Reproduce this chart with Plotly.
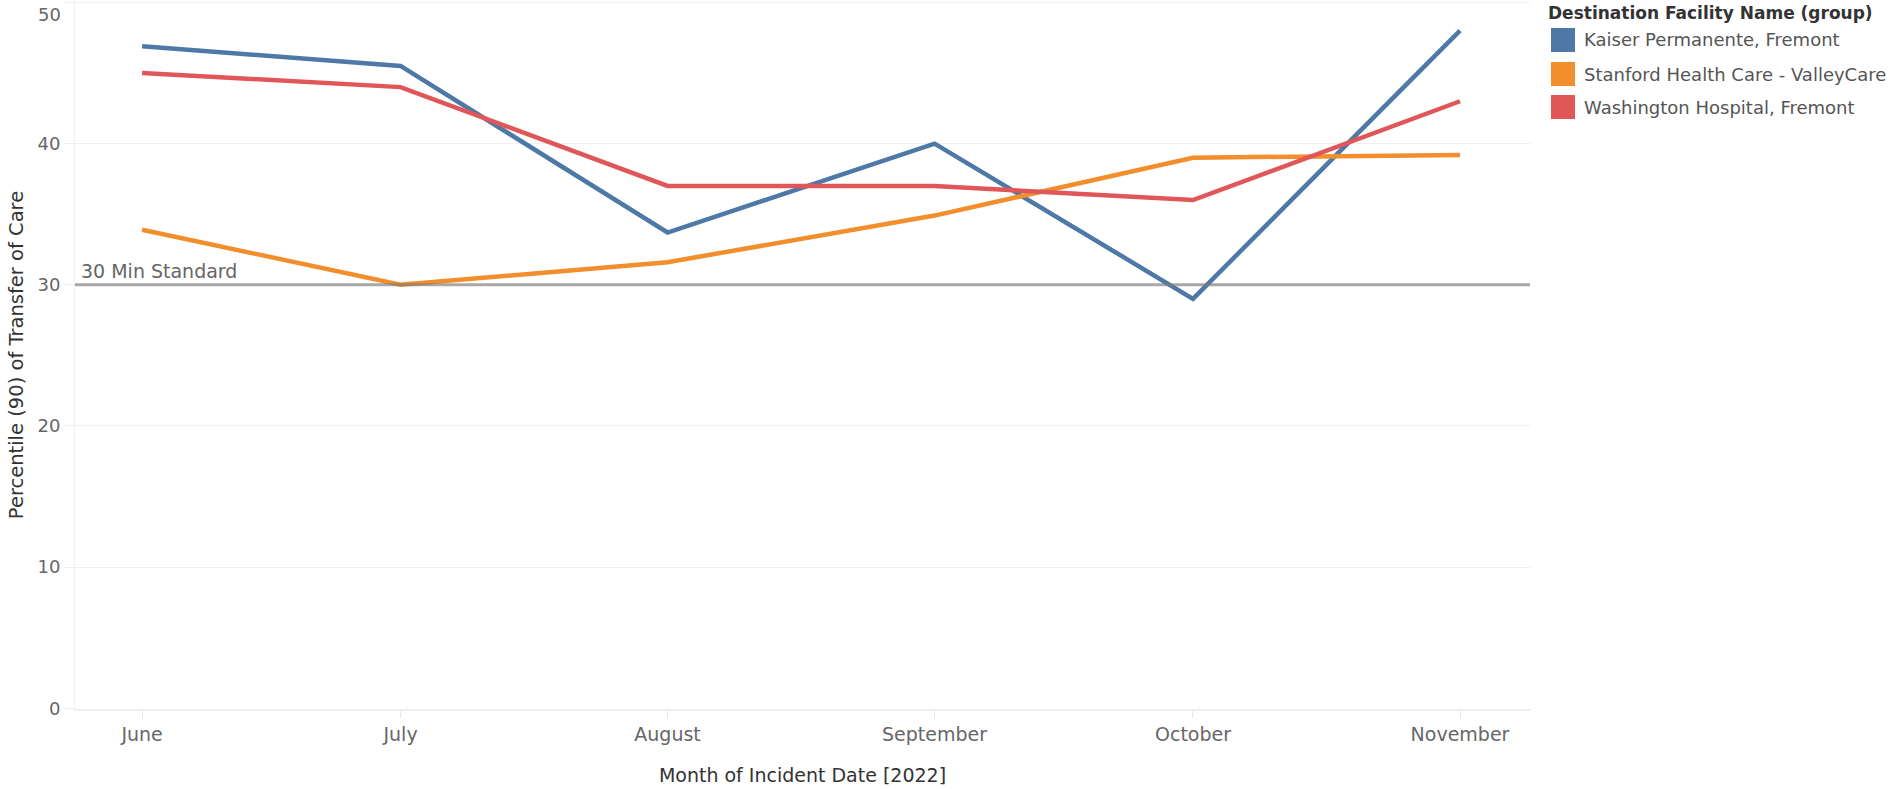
import plotly.graph_objects as go

# ---- data ----
months = ["June", "July", "August", "September", "October", "November"]
month_dates = ["2022-06-01", "2022-07-01", "2022-08-01", "2022-09-01", "2022-10-01", "2022-11-01"]
kaiser = [46.9, 45.5, 33.7, 40.0, 29.0, 48.0]
stanford = [33.9, 30.0, 31.6, 34.9, 39.0, 39.2]
washington = [45.0, 44.0, 37.0, 37.0, 36.0, 43.0]
series_names = ["Kaiser Permanente, Fremont", "Stanford Health Care - ValleyCare", "Washington Hospital, Fremont"]
series_values = [kaiser, stanford, washington]
colors = ["#4e79a7", "#f28e2b", "#e15759"]
standard_value = 30
standard_label = "30 Min Standard"
y_ticks = [0, 10, 20, 30, 40, 50]

FONT = "DejaVu Sans"
W, H = 1900, 789
L, R, T, B = 75, 1530, 1, 709  # plot area in pixels


def px_x(p):
    return (p - L) / (R - L)


def px_y(p):
    return (B - p) / (B - T)


fig = go.Figure()

for name, vals, col in zip(series_names, series_values, colors):
    fig.add_trace(go.Scatter(
        x=month_dates, y=vals, mode="lines", name=name,
        line=dict(color=col, width=4.5), showlegend=False,
        hovertemplate="%{y}<extra>" + name + "</extra>",
    ))

shapes = []
annotations = []

# reference line
shapes.append(dict(type="line", xref="paper", yref="y", x0=0, x1=1,
                   y0=standard_value, y1=standard_value,
                   line=dict(color="rgba(125,125,125,0.65)", width=3), layer="above"))
annotations.append(dict(xref="paper", yref="y", x=px_x(79), y=standard_value,
                        text=standard_label, showarrow=False, xanchor="left",
                        yanchor="bottom", yshift=1,
                        font=dict(family=FONT, size=19, color="#666666")))

# top tick label (Tableau draws it inside the chart area)
tick_text = [str(v) for v in y_ticks[:-1]] + [""]
annotations.append(dict(xref="paper", yref="y", x=0, y=y_ticks[-1], text=str(y_ticks[-1]),
                        showarrow=False, xanchor="right", yanchor="top", xshift=-12,
                        font=dict(family=FONT, size=18, color="#666666")))

# custom legend
annotations.append(dict(xref="paper", yref="paper", x=px_x(1546), y=px_y(13),
                        text="Destination Facility Name (group)", showarrow=False,
                        xanchor="left", yanchor="middle",
                        font=dict(family=FONT, size=17, color="#333333", weight="bold")))
row_y = [40, 74, 107]
for name, col, ry in zip(series_names, colors, row_y):
    shapes.append(dict(type="rect", xref="paper", yref="paper",
                       x0=px_x(1551), x1=px_x(1575), y0=px_y(ry - 12), y1=px_y(ry + 12),
                       fillcolor=col, line=dict(width=0)))
    annotations.append(dict(xref="paper", yref="paper", x=px_x(1582), y=px_y(ry),
                            text=name, showarrow=False, xanchor="left", yanchor="middle",
                            font=dict(family=FONT, size=18, color="#555555")))

fig.update_layout(
    width=W, height=H,
    margin=dict(l=L, r=W - R, t=T, b=H - B),
    plot_bgcolor="white", paper_bgcolor="white",
    font=dict(family=FONT, color="#666666"),
    shapes=shapes, annotations=annotations,
    showlegend=False,
    xaxis=dict(
        type="date", range=["2022-05-24 05:00", "2022-11-09 03:00"],
        tickvals=month_dates, ticktext=months,
        tickfont=dict(family=FONT, size=19, color="#666666"),
        ticks="outside", ticklen=7, tickcolor="#e6e6e6", tickwidth=1,
        showgrid=False, zeroline=False,
        showline=True, linecolor="#eeeeee", linewidth=2,
        title=dict(text="Month of Incident Date [2022]", standoff=25,
                   font=dict(family=FONT, size=19, color="#333333")),
    ),
    yaxis=dict(
        range=[-0.05, 50.1], tickvals=y_ticks, ticktext=tick_text,
        tickfont=dict(family=FONT, size=18, color="#666666"),
        ticks="outside", ticklen=10, tickcolor="#f0f0f0", tickwidth=1,
        showgrid=True, gridcolor="#f0f0f0", gridwidth=1,
        zeroline=False, showline=True, linecolor="#f0f0f0", linewidth=1,
        title=dict(text="Percentile (90) of Transfer of Care", standoff=8,
                   font=dict(family=FONT, size=19.5, color="#333333")),
    ),
)

fig.write_html("out.html", config={"displayModeBar": False},
               post_script="document.body.style.margin='0';")
